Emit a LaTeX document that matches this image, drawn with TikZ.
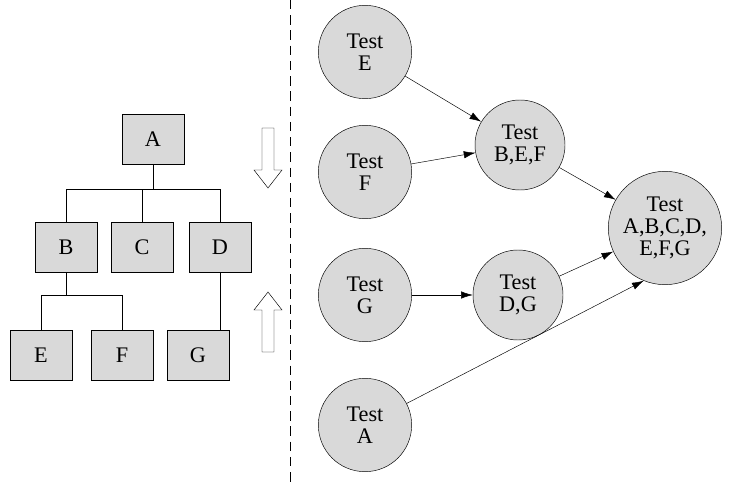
\documentclass[tikz,border=0pt]{standalone}
\usepackage{fontspec}
\setmainfont{Liberation Serif}
\usetikzlibrary{arrows.meta}
\begin{document}
\begin{tikzpicture}[x=0.03cm,y=-0.03cm,
  every node/.style={font=\fontsize{19}{19}\selectfont, align=center, inner sep=0pt},
  box/.style={draw, fill=gray!30, minimum width=1.86cm, minimum height=1.5cm},
  test/.style={draw, circle, fill=gray!30, minimum size=2.7cm},
  flow/.style={-{Latex[length=3.5mm,width=2.2mm]}, thin}]
\useasboundingbox (0,0) rectangle (734,487);
\node[box] (a) at (153,139) {A};
\node[box] (b) at (66,247) {B};
\node[box] (c) at (142,247) {C};
\node[box] (d) at (220,247) {D};
\node[box] (e) at (41,355) {E};
\node[box] (f) at (122,355) {F};
\node[box] (g) at (198,355) {G};

\draw (a.south) -- ++(0,25) coordinate (ta);
\draw (b.north) |- (ta) -| (d.north);
\draw (c.north) -- (c.north |- ta);
\draw (b.south) -- ++(0,23) coordinate (tb);
\draw (e.north) |- (tb) -| (f.north);
\draw (d.south) -- (d.south |- g.north);

\draw (262,128) -- (274,128) -- (274,170) -- (282,170) -- (268,188) -- (254,170) -- (262,170) -- cycle;
\draw (262,352) -- (274,352) -- (274,310) -- (282,310) -- (268,292) -- (254,310) -- (262,310) -- cycle;
\draw[dash pattern=on 8pt off 5pt] (290,0) -- (290,487);

\node[test, minimum size=2.8cm] (te) at (365,52) {Test\\E};
\node[test, minimum size=2.8cm] (tf) at (365,172) {Test\\F};
\node[test, minimum size=2.8cm] (tg) at (365,295) {Test\\G};
\node[test, minimum size=2.8cm] (ta2) at (365,425) {Test\\A};
\node[test] (tbef) at (520,145) {Test\\B,E,F};
\node[test] (tdg) at (518,295) {Test\\D,G};
\node[test, minimum size=3.4cm] (tall) at (665,228) {Test\\A,B,C,D,\\E,F,G};

\draw[flow] (te) -- (tbef);
\draw[flow] (tf) -- (tbef);
\draw[flow] (tg) -- (tdg);
\draw[flow] (tbef) -- (tall);
\draw[flow] (tdg) -- (tall);
\draw[flow] (ta2) -- (tall.-112);
\end{tikzpicture}
\end{document}
